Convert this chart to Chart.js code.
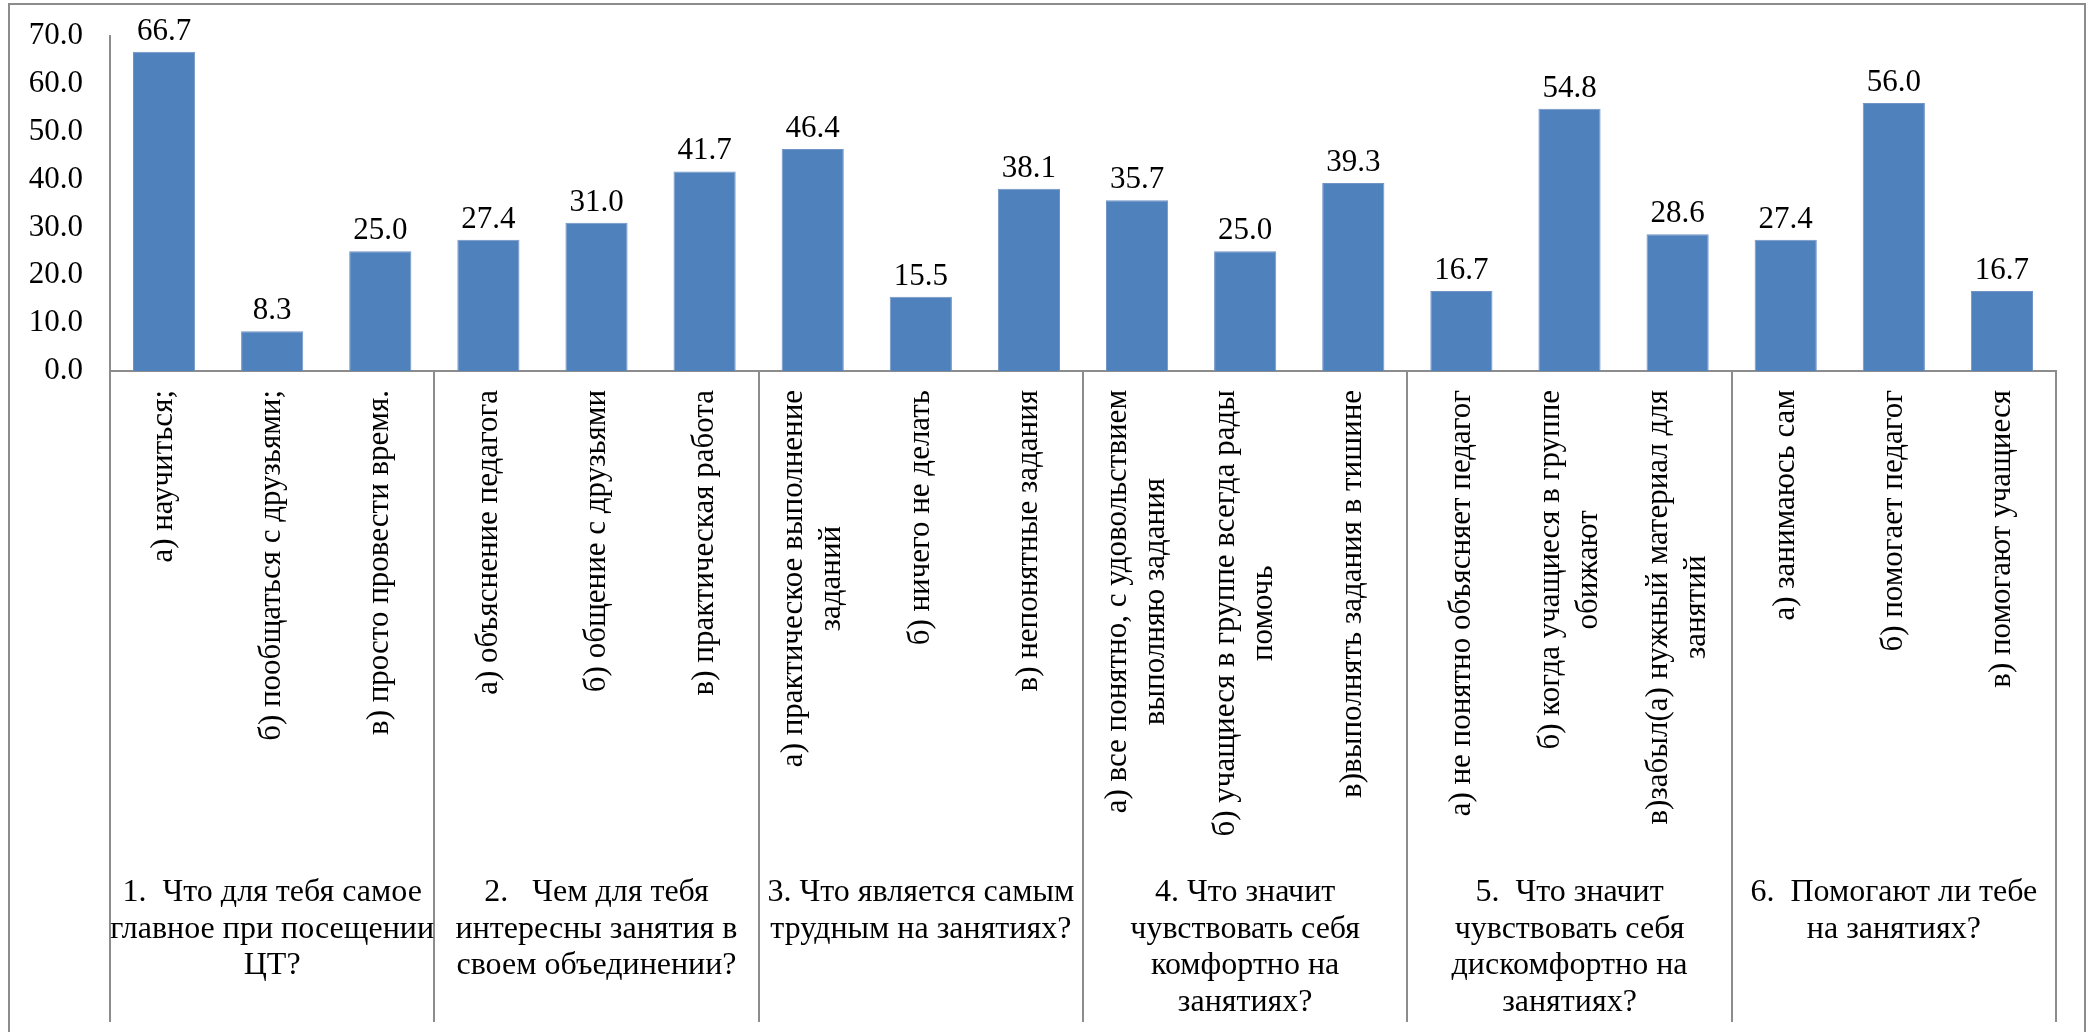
<!DOCTYPE html>
<html lang="ru">
<head>
<meta charset="utf-8">
<title>Результаты анкетирования</title>
<script src="https://cdn.jsdelivr.net/npm/chart.js@4.4.0/dist/chart.umd.min.js"></script>
<style>
  html, body { margin: 0; padding: 0; background: #fff; }
  #wrap { width: 2093px; height: 1032px; }
</style>
</head>
<body>
<div id="wrap"><canvas id="chart" width="2093" height="1032"></canvas></div>
<script>
/* ---- DATA ---- */
const categories = [
  ['а) научиться;'],
  ['б) пообщаться с друзьями;'],
  ['в) просто провести время.'],
  ['а) объяснение педагога'],
  ['б) общение с друзьями'],
  ['в) практическая работа'],
  ['а) практическое выполнение', 'заданий'],
  ['б) ничего не делать'],
  ['в) непонятные задания'],
  ['а) все понятно, с удовольствием', 'выполняю задания'],
  ['б) учащиеся в группе всегда рады', 'помочь'],
  ['в)выполнять задания в тишине'],
  ['а) не понятно объясняет педагог'],
  ['б) когда учащиеся в группе', 'обижают'],
  ['в)забыл(а) нужный материал для', 'занятий'],
  ['а) занимаюсь сам'],
  ['б) помогает педагог'],
  ['в) помогают учащиеся']
];

const values = [66.7, 8.3, 25.0, 27.4, 31.0, 41.7, 46.4, 15.5, 38.1,
                35.7, 25.0, 39.3, 16.7, 54.8, 28.6, 27.4, 56.0, 16.7];

const groups = [
  ['1.  Что для тебя самое', 'главное при посещении', 'ЦТ?'],
  ['2.   Чем для тебя', 'интересны занятия в', 'своем объединении?'],
  ['3. Что является самым', 'трудным на занятиях?'],
  ['4. Что значит', 'чувствовать себя', 'комфортно на', 'занятиях?'],
  ['5.  Что значит', 'чувствовать себя', 'дискомфортно на', 'занятиях?'],
  ['6.  Помогают ли тебе', 'на занятиях?']
];
const groupSize = 3;

const yTicks = [0, 10, 20, 30, 40, 50, 60, 70];

/* ---- STYLE ---- */
const FONT = "'Liberation Serif', 'Times New Roman', serif";
const AXIS = '#8c8c8c';
const BAR = '#4F81BD';

/* ---- LABELS, GROUPS, FRAME ---- */
const surveyPlugin = {
  id: 'survey',
  afterDraw(chart) {
    const ctx = chart.ctx;
    const xs = chart.scales.x;
    const area = chart.chartArea;
    const lineBottom = 1022;
    const half = (xs.getPixelForValue(1) - xs.getPixelForValue(0)) / 2;

    ctx.save();

    // outer frame (bottom edge is cut off in the original)
    ctx.strokeStyle = AXIS;
    ctx.lineWidth = 2;
    ctx.strokeRect(9, 4, 2076, 1050);

    // group separators
    const edges = [];
    for (let g = 0; g <= groups.length; g++) {
      edges.push(g < groups.length
        ? xs.getPixelForValue(g * groupSize) - half
        : xs.getPixelForValue(g * groupSize - 1) + half);
    }
    edges.forEach(px => {
      ctx.beginPath();
      ctx.moveTo(Math.round(px), area.bottom);
      ctx.lineTo(Math.round(px), lineBottom);
      ctx.stroke();
    });

    ctx.fillStyle = '#000';

    // rotated category labels
    ctx.font = '31px ' + FONT;
    categories.forEach((lines, i) => {
      const cx = xs.getPixelForValue(i);
      const blockW = Math.max(...lines.map(l => ctx.measureText(l).width));
      ctx.save();
      ctx.translate(cx, 390);
      ctx.rotate(-Math.PI / 2);
      ctx.textAlign = 'center';
      ctx.textBaseline = 'middle';
      lines.forEach((l, j) => {
        ctx.fillText(l, -blockW / 2, (j - (lines.length - 1) / 2) * 38);
      });
      ctx.restore();
    });

    // group (question) labels
    ctx.font = '32px ' + FONT;
    ctx.textAlign = 'center';
    ctx.textBaseline = 'middle';
    groups.forEach((lines, g) => {
      const gx = (edges[g] + edges[g + 1]) / 2;
      lines.forEach((l, j) => ctx.fillText(l, gx, 893 + j * 36.5));
    });

    // value labels
    ctx.font = '31px ' + FONT;
    ctx.textBaseline = 'alphabetic';
    const meta = chart.getDatasetMeta(0);
    meta.data.forEach((bar, i) => {
      ctx.fillText(values[i].toFixed(1), bar.x, bar.y - 12);
    });

    ctx.restore();
  }
};

/* ---- CHART ---- */
new Chart(document.getElementById('chart'), {
  type: 'bar',
  data: {
    labels: categories.map(c => c.join(' ')),
    datasets: [{
      data: values,
      backgroundColor: BAR,
      borderColor: '#7094c6',
      borderWidth: 1,
      barPercentage: 0.575,
      categoryPercentage: 1
    }]
  },
  options: {
    responsive: false,
    animation: false,
    layout: { padding: { top: 36, right: 37, left: 0, bottom: 0 } },
    plugins: {
      legend: { display: false },
      tooltip: { enabled: false }
    },
    scales: {
      x: {
        afterFit: s => { s.height = 661; },
        grid: { display: false, drawTicks: false },
        border: { color: AXIS, width: 2 },
        ticks: { display: false }
      },
      y: {
        min: 0,
        max: 70,
        afterFit: s => { s.width = 110; s.paddingTop = 0; s.paddingBottom = 0; },
        afterBuildTicks: s => { s.ticks = yTicks.map(v => ({ value: v })); },
        grid: { display: false, drawTicks: false },
        border: { color: AXIS, width: 2 },
        ticks: {
          padding: 27,
          color: '#000',
          font: { family: FONT, size: 31 },
          callback: v => Number(v).toFixed(1)
        }
      }
    }
  },
  plugins: [surveyPlugin]
});
</script>
</body>
</html>
